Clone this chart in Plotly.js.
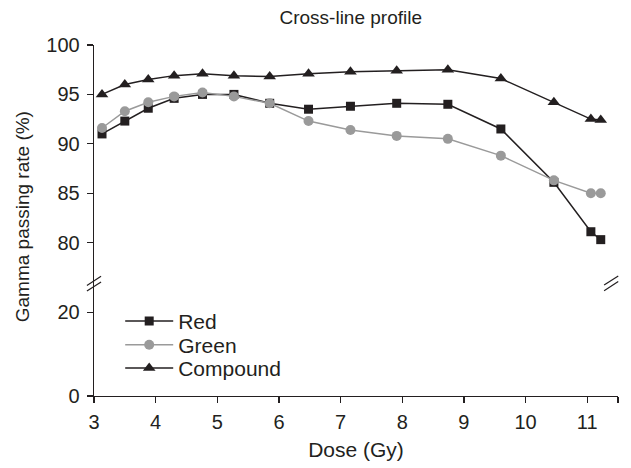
<!DOCTYPE html>
<html>
<head>
<meta charset="utf-8">
<script src="https://cdn.plot.ly/plotly-3.0.1.min.js"></script>
<style>html,body{margin:0;padding:0;background:#fff;}#chart{width:631px;height:468px;}</style>
</head>
<body>
<div id="chart"></div>
<script>
// ---- data ----
const dose = [3.13, 3.5, 3.88, 4.3, 4.76, 5.27, 5.85, 6.48, 7.16, 7.91, 8.74, 9.6, 10.46, 11.06, 11.22];
const red = [91.0, 92.3, 93.6, 94.6, 95.0, 95.0, 94.1, 93.5, 93.8, 94.1, 94.0, 91.5, 86.1, 81.1, 80.3];
const green = [91.6, 93.3, 94.2, 94.8, 95.2, 94.8, 94.1, 92.3, 91.4, 90.8, 90.5, 88.8, 86.3, 85.0, 85.0];
const compound = [95.0, 96.0, 96.5, 96.9, 97.1, 96.9, 96.8, 97.1, 97.3, 97.4, 97.5, 96.6, 94.2, 92.5, 92.4];
const seriesNames = ["Red", "Green", "Compound"];
const xTickVals = [3, 4, 5, 6, 7, 8, 9, 10, 11, 11.5];
const xTickText = ["3", "4", "5", "6", "7", "8", "9", "10", "11", ""];
const yLowTicks = [0, 20];
const yHighTicks = [80, 85, 90, 95, 100];

const BLACK = "#231f20";
const GRAY = "#9a9a9a";
const FONT = "Arial, 'Liberation Sans', Helvetica, sans-serif";
const breakFrac = 0.316;

const traces = [
  {x: dose, y: red, name: seriesNames[0], type: "scatter", mode: "lines+markers", yaxis: "y2", legend: "legend",
   line: {color: BLACK, width: 1.5}, marker: {symbol: "square", size: 9, color: BLACK}},
  {x: dose, y: green, name: seriesNames[1], type: "scatter", mode: "lines+markers", yaxis: "y2", legend: "legend2",
   line: {color: GRAY, width: 1.5}, marker: {symbol: "circle", size: 10, color: GRAY}},
  {x: dose, y: compound, name: seriesNames[2], type: "scatter", mode: "lines+markers", yaxis: "y2", legend: "legend3",
   line: {color: BLACK, width: 1.5}, marker: {symbol: "triangle-up", size: 11, color: BLACK}},
  {x: [], y: [], yaxis: "y", type: "scatter", mode: "markers", showlegend: false, hoverinfo: "skip"}
];

const axisCommon = {
  showline: true, linecolor: BLACK, linewidth: 1.3, ticks: "outside", ticklen: 6,
  tickcolor: BLACK, tickwidth: 1.3, showgrid: false, zeroline: false,
  tickfont: {family: FONT, size: 20, color: BLACK}
};

function slash(xp, yp) {
  return {type: "line", xref: "paper", yref: "paper",
    x0: xp - 0.0135, y0: yp - 0.013, x1: xp + 0.0135, y1: yp + 0.013,
    line: {color: BLACK, width: 1.2}};
}

function legendAt(yp) {
  return {x: 0.05, y: yp, xanchor: "left", yanchor: "middle", bgcolor: "rgba(0,0,0,0)",
          itemwidth: 48, font: {family: FONT, size: 21, color: BLACK}};
}

const layout = {
  width: 631, height: 468,
  margin: {l: 94, r: 13, t: 45, b: 72},
  paper_bgcolor: "#fff", plot_bgcolor: "#fff",
  font: {family: FONT, color: BLACK},
  showlegend: true,
  title: {text: "Cross-line profile", xref: "paper", yref: "container", x: 0.49, y: 0.962,
          xanchor: "center", yanchor: "middle", font: {family: FONT, size: 19, color: BLACK}},
  xaxis: Object.assign({}, axisCommon, {range: [3, 11.5], tickvals: xTickVals, ticktext: xTickText,
          ticklabelstandoff: 2,
          title: {text: "Dose (Gy)", font: {family: FONT, size: 21, color: BLACK}, standoff: 10}}),
  yaxis: Object.assign({}, axisCommon, {domain: [0, breakFrac], range: [0, 26.5], tickvals: yLowTicks,
          anchor: "x", ticklabelstandoff: 3}),
  yaxis2: Object.assign({}, axisCommon, {domain: [breakFrac, 1], range: [75.7, 100], tickvals: yHighTicks,
          anchor: "x", ticklabelstandoff: 3}),
  legend: legendAt(0.213),
  legend2: legendAt(0.145),
  legend3: legendAt(0.079),
  annotations: [
    {text: "Gamma passing rate (%)", xref: "paper", yref: "paper", x: -0.135, y: 0.51,
     xanchor: "center", yanchor: "middle", textangle: -90, showarrow: false,
     font: {family: FONT, size: 19, color: BLACK}}
  ],
  shapes: [
    slash(0.0, breakFrac + 0.012), slash(0.0, breakFrac - 0.004),
    slash(0.987, breakFrac + 0.013), slash(0.987, breakFrac - 0.003)
  ]
};

Plotly.newPlot("chart", traces, layout, {displayModeBar: false, staticPlot: true});
</script>
</body>
</html>
